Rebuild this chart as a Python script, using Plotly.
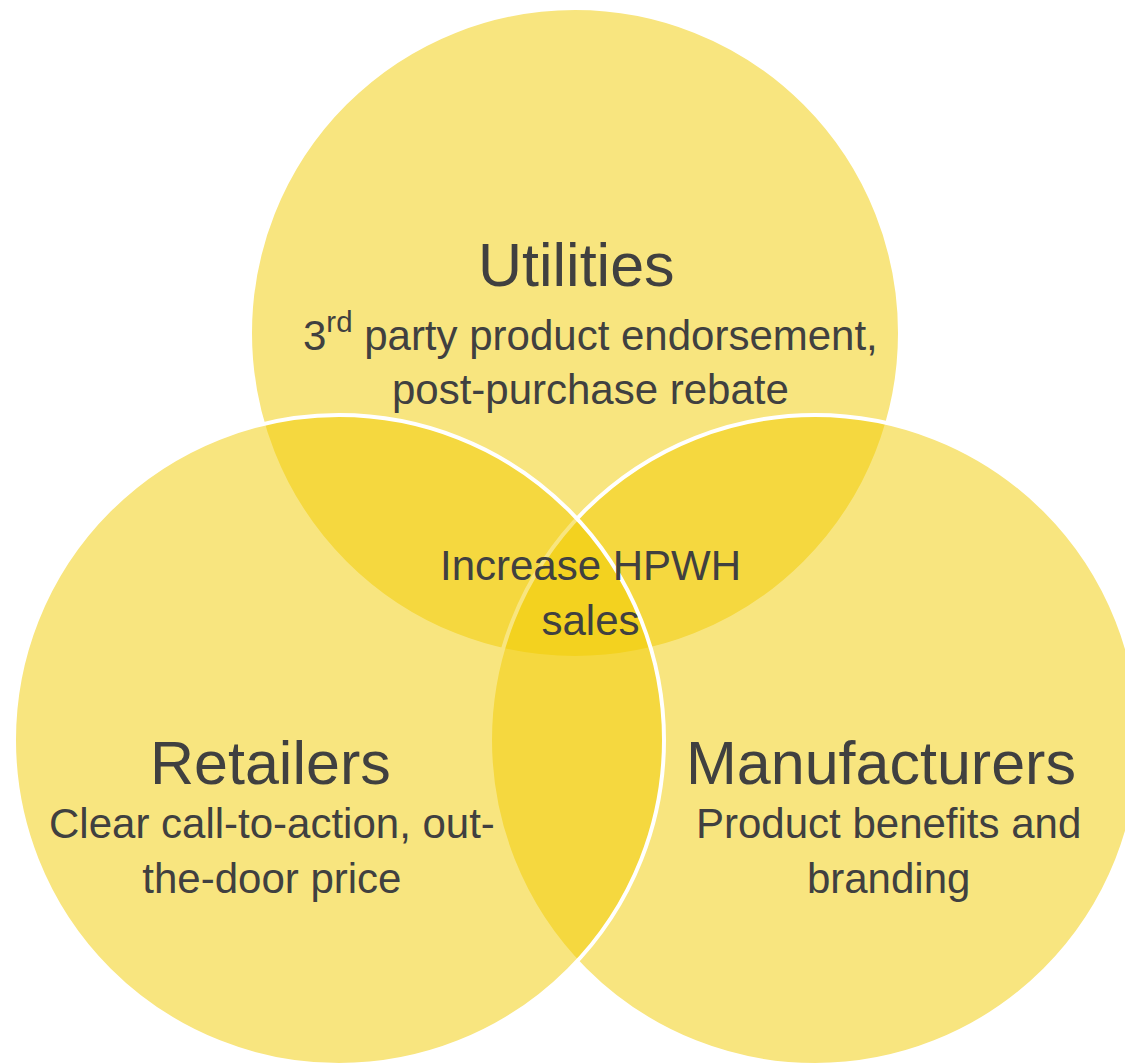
import plotly.graph_objects as go

# ---- data ----
groups = ["Utilities", "Retailers", "Manufacturers"]
descriptions = [
    "3<sup>rd</sup> party product endorsement,<br>post-purchase rebate",
    "Clear call-to-action, out-<br>the-door price",
    "Product benefits and<br>branding",
]
center_label = "Increase HPWH<br>sales"

# ---- layout constants (pixel-like coordinate system) ----
W, H = 1125, 1063
circle_cx = {"Utilities": 575, "Retailers": 339, "Manufacturers": 815}
circle_cy = {"Utilities": 333, "Retailers": 740, "Manufacturers": 740}
R = 325
draw_order = ["Utilities", "Manufacturers", "Retailers"]

title_pos = {"Utilities": (576, 265), "Retailers": (270, 763), "Manufacturers": (881, 763)}
desc_pos = {"Utilities": (590, 359), "Retailers": (272, 851), "Manufacturers": (888, 851)}
center_pos = (590, 593)

fill = "rgba(242,204,0,0.5)"
text_color = "#404040"
font_family = "Liberation Sans, Arial, sans-serif"

fig = go.Figure()

shapes = []
for g in draw_order:
    cx, cy = circle_cx[g], circle_cy[g]
    shapes.append(dict(
        type="circle", xref="x", yref="y",
        x0=cx - R, x1=cx + R, y0=cy - R, y1=cy + R,
        fillcolor=fill, line=dict(color="white", width=4), layer="above",
    ))

annotations = []
for g, d in zip(groups, descriptions):
    tx, ty = title_pos[g]
    annotations.append(dict(x=tx, y=ty, text=g, showarrow=False, xref="x", yref="y",
                            xanchor="center", yanchor="middle",
                            font=dict(size=61, color=text_color, family=font_family)))
    dx, dy = desc_pos[g]
    annotations.append(dict(x=dx, y=dy, text=d, showarrow=False, xref="x", yref="y",
                            xanchor="center", yanchor="middle", align="center",
                            font=dict(size=42, color=text_color, family=font_family)))
annotations.append(dict(x=center_pos[0], y=center_pos[1], text=center_label, showarrow=False,
                        xref="x", yref="y", xanchor="center", yanchor="middle", align="center",
                        font=dict(size=42, color=text_color, family=font_family)))

fig.update_layout(
    width=W, height=H,
    margin=dict(l=0, r=0, t=0, b=0),
    paper_bgcolor="white", plot_bgcolor="white",
    xaxis=dict(range=[0, W], visible=False, fixedrange=True),
    yaxis=dict(range=[H, 0], visible=False, fixedrange=True),
    shapes=shapes, annotations=annotations,
    showlegend=False,
)

fig.write_html(
    "out.html",
    config={"displayModeBar": False},
    post_script="document.body.style.margin='0';document.body.style.overflow='hidden';",
)
